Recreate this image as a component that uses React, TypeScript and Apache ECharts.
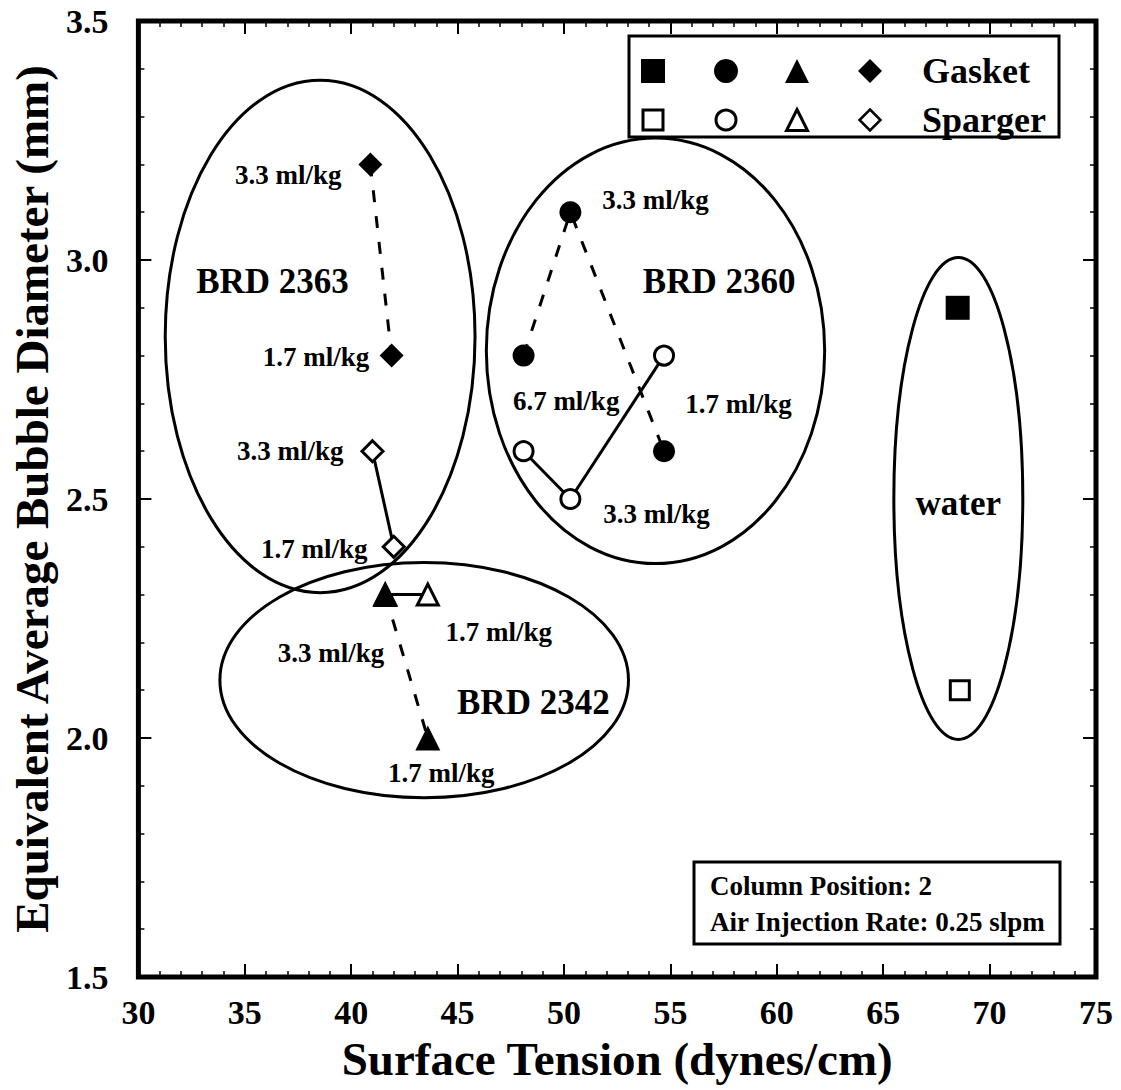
import React, { useEffect, useRef } from "react";
import * as echarts from "echarts";

const FONT = "Liberation Serif";

const X_MIN = 30, X_MAX = 75, X_STEP = 5;
const Y_MIN = 1.5, Y_MAX = 3.5, Y_STEP = 0.5;

// BRD 2360 (circles)
const gasketCircle = [[48.1, 2.8], [50.3, 3.1], [54.7, 2.6]];
const spargerCircle = [[48.1, 2.6], [50.3, 2.5], [54.7, 2.8]];
// BRD 2363 (diamonds)
const gasketDiamond = [[40.9, 3.2], [41.9, 2.8]];
const spargerDiamond = [[41.0, 2.6], [42.0, 2.4]];
// BRD 2342 (triangles)
const gasketTriangle = [[41.6, 2.3], [43.6, 2.0]];
const spargerTriangle = [[41.6, 2.3], [43.6, 2.3]];
// water (squares)
const gasketSquare = [[68.5, 2.9]];
const spargerSquare = [[68.6, 2.1]];

// group outlines: [centre x, centre y, radius x, radius y] in data units
const groupNames = ["BRD 2363", "BRD 2360", "BRD 2342", "water"];
const groupEllipses = [
  [38.54, 2.84, 7.28, 0.536],
  [54.3, 2.81, 7.95, 0.445],
  [43.43, 2.121, 9.6, 0.246],
  [68.53, 2.501, 3.03, 0.504],
];
const groupLabelAt = [
  [36.3, 2.954],
  [57.29, 2.954],
  [48.56, 2.075],
  [68.53, 2.49],
];

const doseTexts = [
  "3.3 ml/kg", "1.7 ml/kg", "3.3 ml/kg", "1.7 ml/kg",
  "3.3 ml/kg", "6.7 ml/kg", "1.7 ml/kg", "3.3 ml/kg",
  "1.7 ml/kg", "3.3 ml/kg", "1.7 ml/kg",
];
const doseLabelAt = [
  [37.04, 3.177], [38.35, 2.798], [37.14, 2.6], [38.26, 2.396],
  [54.3, 3.125], [50.1, 2.704], [58.2, 2.698], [54.35, 2.469],
  [46.93, 2.221], [39.05, 2.177], [44.23, 1.927],
];

const legendRows = ["Gasket", "Sparger"];
const infoLines = ["Column Position: 2", "Air Injection Rate: 0.25 slpm"];

function markerSeries(data: number[][], symbol: string, size: number, filled: boolean, dashed: boolean, z: number) {
  return {
    type: "line",
    data,
    symbol,
    symbolSize: size,
    showSymbol: true,
    z,
    silent: true,
    lineStyle: { color: "#000", width: 3, type: dashed ? [12, 14] : "solid" },
    itemStyle: { color: filled ? "#000" : "#fff", borderColor: "#000", borderWidth: filled ? 0 : 3 },
    emphasis: { disabled: true },
  };
}

function tri(cx: number, cy: number, s: number) {
  return [[cx, cy - s / 2], [cx + s / 2, cy + s / 2], [cx - s / 2, cy + s / 2]];
}
function dia(cx: number, cy: number, s: number) {
  return [[cx, cy - s / 2], [cx + s / 2, cy], [cx, cy + s / 2], [cx - s / 2, cy]];
}

export default function App() {
  const ref = useRef<HTMLDivElement>(null);
  useEffect(() => {
    document.body.style.margin = "0";
    const chart = echarts.init(ref.current!, null, { renderer: "svg" });
    const tickAxis = {
      axisLine: { show: false },
      axisTick: { show: true, inside: true, length: 13, lineStyle: { color: "#000", width: 2 } },
      minorTick: { show: true, splitNumber: 5, length: 6, lineStyle: { color: "#000", width: 1.5 } },
      splitLine: { show: false },
    };
    const labelStyle = { fontFamily: FONT, fontWeight: "bold", fontSize: 34, color: "#000" };
    const nameStyle = { fontFamily: FONT, fontWeight: "bold", fontSize: 47, color: "#000" };

    const ly1 = 71, ly2 = 120;
    const lxs = [653, 726, 797, 870];
    const s = 24;
    const lf = 36;
    const graphic: any[] = [
      { type: "rect", shape: { x: 629, y: 36, width: 430, height: 101 }, style: { fill: "#fff", stroke: "#000", lineWidth: 3 }, z: 20 },
      { type: "rect", shape: { x: lxs[0] - 12, y: ly1 - 12, width: 24, height: 24 }, style: { fill: "#000" }, z: 21 },
      { type: "circle", shape: { cx: lxs[1], cy: ly1, r: 12 }, style: { fill: "#000" }, z: 21 },
      { type: "polygon", shape: { points: tri(lxs[2], ly1, s) }, style: { fill: "#000" }, z: 21 },
      { type: "polygon", shape: { points: dia(lxs[3], ly1, s) }, style: { fill: "#000" }, z: 21 },
      { type: "rect", shape: { x: lxs[0] - 10, y: ly2 - 10, width: 20, height: 20 }, style: { fill: "#fff", stroke: "#000", lineWidth: 3 }, z: 21 },
      { type: "circle", shape: { cx: lxs[1], cy: ly2, r: 10 }, style: { fill: "#fff", stroke: "#000", lineWidth: 3 }, z: 21 },
      { type: "polygon", shape: { points: tri(lxs[2], ly2, 21) }, style: { fill: "#fff", stroke: "#000", lineWidth: 3 }, z: 21 },
      { type: "polygon", shape: { points: dia(lxs[3], ly2, 21) }, style: { fill: "#fff", stroke: "#000", lineWidth: 2.5 }, z: 21 },
      { type: "text", x: 922, y: ly1, style: { text: legendRows[0], fontFamily: FONT, fontWeight: "bold", fontSize: lf, fill: "#000", align: "left", verticalAlign: "middle" }, z: 21 },
      { type: "text", x: 922, y: ly2, style: { text: legendRows[1], fontFamily: FONT, fontWeight: "bold", fontSize: lf, fill: "#000", align: "left", verticalAlign: "middle" }, z: 21 },
      { type: "rect", shape: { x: 694, y: 862, width: 366, height: 82 }, style: { fill: "#fff", stroke: "#000", lineWidth: 3 }, z: 20 },
      { type: "text", x: 710, y: 886, style: { text: infoLines[0], fontFamily: FONT, fontWeight: "bold", fontSize: 27, fill: "#000", align: "left", verticalAlign: "middle" }, z: 21 },
      { type: "text", x: 710, y: 922, style: { text: infoLines[1], fontFamily: FONT, fontWeight: "bold", fontSize: 27, fill: "#000", align: "left", verticalAlign: "middle" }, z: 21 },
    ];

    chart.setOption({
      animation: false,
      backgroundColor: "#fff",
      grid: { left: 131, right: 25, top: 21, bottom: 113, show: true, borderColor: "#000", borderWidth: 5, containLabel: false },
      xAxis: [
        {
          type: "value", min: X_MIN, max: X_MAX, interval: X_STEP, position: "bottom",
          name: "Surface Tension (dynes/cm)", nameLocation: "middle", nameGap: 58, nameTextStyle: nameStyle,
          axisLabel: { ...labelStyle, margin: 18 }, ...tickAxis,
        },
        { type: "value", min: X_MIN, max: X_MAX, interval: X_STEP, position: "top", axisLabel: { show: false }, ...tickAxis },
      ],
      yAxis: [
        {
          type: "value", min: Y_MIN, max: Y_MAX, interval: Y_STEP, position: "left",
          name: "Equivalent Average Bubble Diameter (mm)", nameLocation: "middle", nameGap: 76, nameRotate: 90, nameTextStyle: nameStyle,
          axisLabel: { ...labelStyle, margin: 30, formatter: (v: number) => v.toFixed(1) }, ...tickAxis,
        },
        { type: "value", min: Y_MIN, max: Y_MAX, interval: Y_STEP, position: "right", axisLabel: { show: false }, ...tickAxis },
      ],
      series: [
        {
          type: "custom", coordinateSystem: "cartesian2d", silent: true, z: 1,
          data: groupEllipses.map((e) => e),
          encode: { x: 0, y: 1 },
          renderItem: (params: any, api: any) => {
            const c = api.coord([api.value(0), api.value(1)]);
            const sz = api.size([api.value(2), api.value(3)]);
            return { type: "ellipse", shape: { cx: c[0], cy: c[1], rx: sz[0], ry: sz[1] }, style: { fill: "none", stroke: "#000", lineWidth: 3 } };
          },
        },
        {
          type: "custom", coordinateSystem: "cartesian2d", silent: true, z: 5,
          data: groupLabelAt.map((p) => p),
          encode: { x: 0, y: 1 },
          renderItem: (params: any, api: any) => {
            const c = api.coord([api.value(0), api.value(1)]);
            return { type: "text", x: c[0], y: c[1], style: { text: groupNames[params.dataIndex], fontFamily: FONT, fontWeight: "bold", fontSize: 35, fill: "#000", align: "center", verticalAlign: "middle" } };
          },
        },
        {
          type: "custom", coordinateSystem: "cartesian2d", silent: true, z: 5,
          data: doseLabelAt.map((p) => p),
          encode: { x: 0, y: 1 },
          renderItem: (params: any, api: any) => {
            const c = api.coord([api.value(0), api.value(1)]);
            return { type: "text", x: c[0], y: c[1], style: { text: doseTexts[params.dataIndex], fontFamily: FONT, fontWeight: "bold", fontSize: 27, fill: "#000", align: "center", verticalAlign: "middle" } };
          },
        },
        markerSeries(gasketCircle, "circle", 22, true, true, 3),
        markerSeries(spargerCircle, "circle", 19, false, false, 3),
        markerSeries(gasketDiamond, "diamond", 24, true, true, 3),
        markerSeries(spargerDiamond, "diamond", 21, false, false, 3),
        markerSeries(spargerTriangle, "triangle", 21, false, false, 3),
        markerSeries(gasketTriangle, "triangle", 25, true, true, 4),
        markerSeries(gasketSquare, "rect", 24, true, false, 3),
        markerSeries(spargerSquare, "rect", 19, false, false, 3),
      ],
      graphic,
    });
    return () => chart.dispose();
  }, []);
  return <div ref={ref} style={{ width: 1121, height: 1090 }} />;
}
